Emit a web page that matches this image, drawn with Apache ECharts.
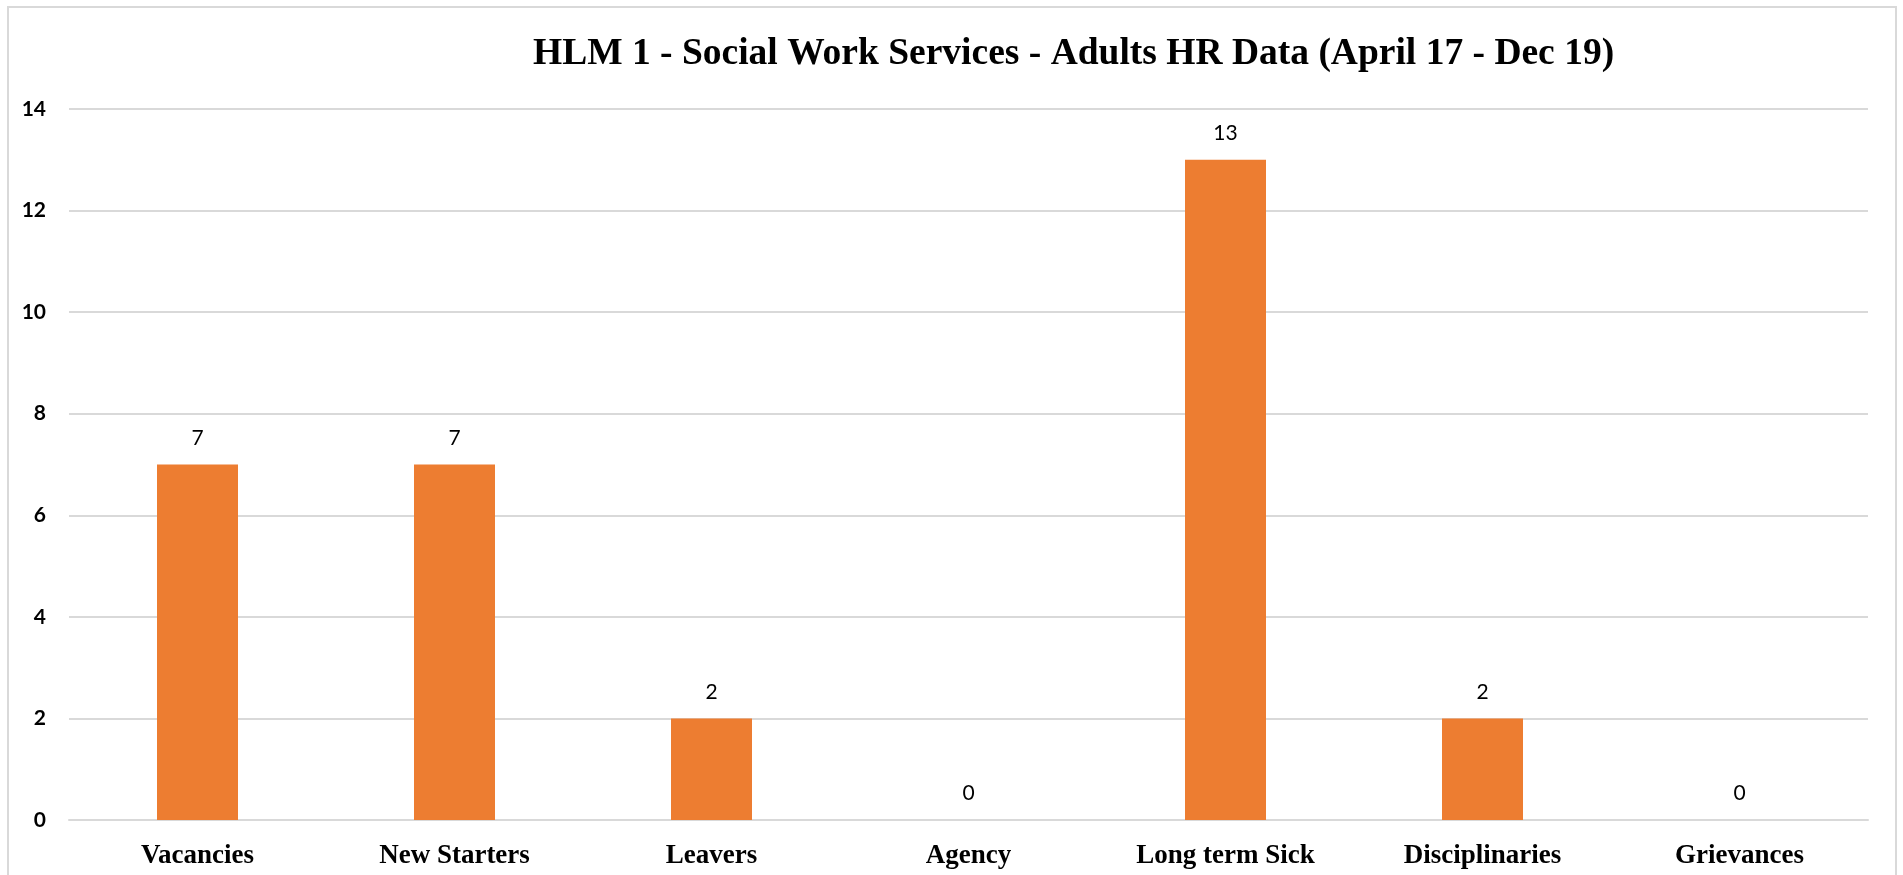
<!DOCTYPE html>
<html>
<head>
<meta charset="utf-8">
<script src="https://cdn.jsdelivr.net/npm/echarts@6/dist/echarts.min.js"></script>
<style>
html,body{margin:0;padding:0;background:#fff;}
#chart{width:1903px;height:875px;}
</style>
</head>
<body>
<div id="chart"></div>
<script>
const chartTitle = 'HLM 1 - Social Work Services - Adults HR Data (April 17 - Dec 19)';
const categories = ['Vacancies', 'New Starters', 'Leavers', 'Agency', 'Long term Sick', 'Disciplinaries', 'Grievances'];
const values = [7, 7, 2, 0, 13, 2, 0];
const yTicks = [0, 2, 4, 6, 8, 10, 12, 14];

const chart = echarts.init(document.getElementById('chart'));
chart.setOption({
  backgroundColor: '#ffffff',
  animation: false,
  graphic: [{
    type: 'rect',
    shape: { x: 8, y: 7, width: 1888, height: 880 },
    style: { fill: 'none', stroke: '#d9d9d9', lineWidth: 2 },
    silent: true
  }],
  title: {
    text: chartTitle,
    left: 528,
    top: 30,
    textStyle: {
      fontFamily: 'Liberation Serif',
      fontWeight: 'bold',
      fontSize: 37.5,
      color: '#000000'
    }
  },
  grid: { left: 69, right: 35, top: 109, bottom: 55 },
  xAxis: {
    type: 'category',
    data: categories,
    axisTick: { show: false },
    axisLine: { show: true, lineStyle: { color: '#d9d9d9', width: 2 } },
    axisLabel: {
      interval: 0,
      margin: 23,
      fontFamily: 'Liberation Serif',
      fontWeight: 'bold',
      fontSize: 27,
      color: '#000000'
    }
  },
  yAxis: {
    type: 'value',
    min: yTicks[0],
    max: yTicks[yTicks.length - 1],
    interval: yTicks[1] - yTicks[0],
    axisLine: { show: false },
    axisTick: { show: false },
    splitLine: { lineStyle: { color: '#d9d9d9', width: 2 } },
    axisLabel: {
      margin: 23,
      fontFamily: 'Lato',
      fontWeight: 'bold',
      fontSize: 21,
      color: '#000000'
    }
  },
  series: [{
    type: 'bar',
    data: values,
    barWidth: 81,
    itemStyle: { color: '#ED7D31' },
    label: {
      show: true,
      position: 'top',
      distance: 16,
      fontFamily: 'Lato',
      fontSize: 21,
      color: '#000000'
    }
  }]
});
</script>
</body>
</html>
